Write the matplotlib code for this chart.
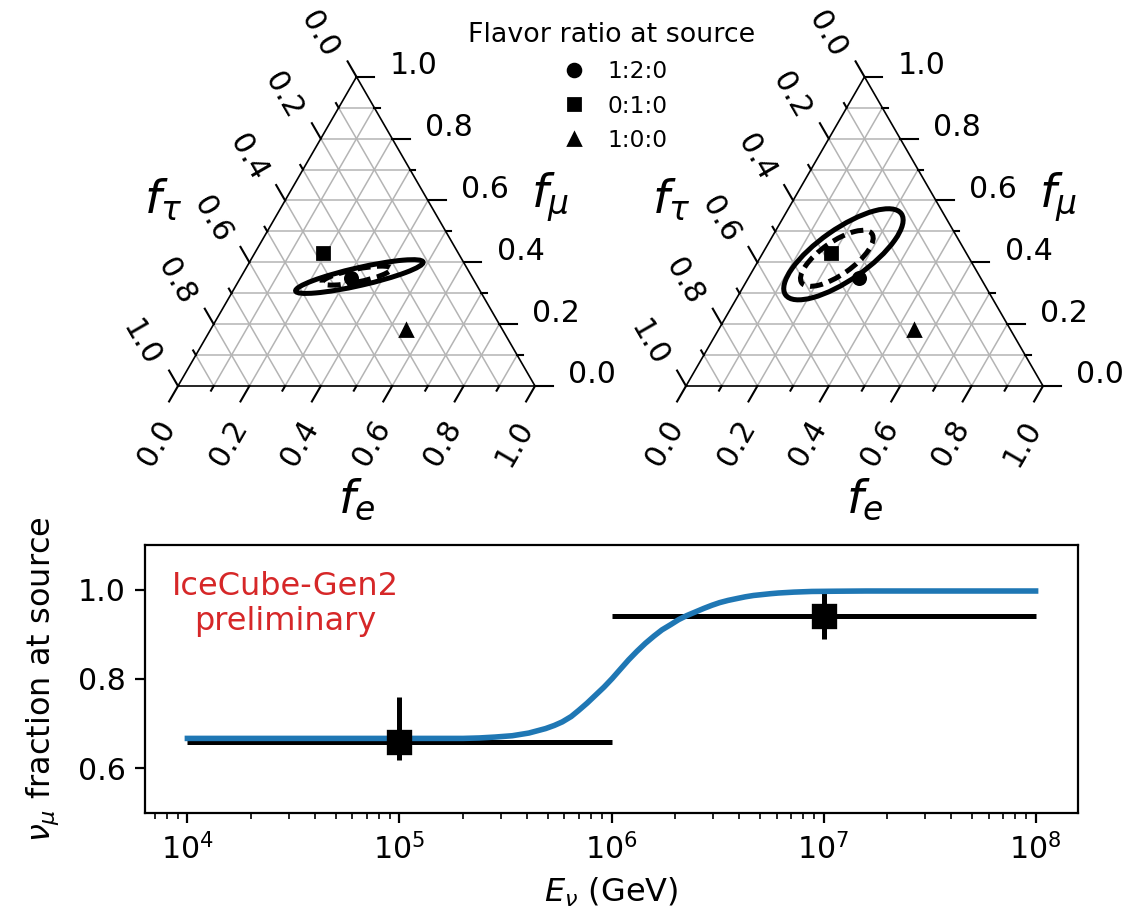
import numpy as np
import matplotlib
matplotlib.use("Agg")
import matplotlib.pyplot as plt
from matplotlib.patches import Ellipse
from matplotlib.lines import Line2D

# ---------------- flavor triangle content ----------------
axis_ticks = [0.0, 0.2, 0.4, 0.6, 0.8, 1.0]
axis_tick_labels = ["0.0", "0.2", "0.4", "0.6", "0.8", "1.0"]
minor_ticks = [0.1, 0.3, 0.5, 0.7, 0.9]
grid_levels = [0.1, 0.2, 0.3, 0.4, 0.5, 0.6, 0.7, 0.8, 0.9]

# flavor composition at Earth for each source ratio
source_labels = ["1:2:0", "0:1:0", "1:0:0"]
source_markers = ["o", "s", "^"]
source_fe = [0.31, 0.19, 0.55]
source_fmu = [0.35, 0.43, 0.18]

# sensitivity contours (solid, dashed): centre (f_e, f_mu), semi-axes, tilt
low_fe = [0.331, 0.322]
low_fmu = [0.354, 0.357]
low_semi_major = [0.183, 0.099]
low_semi_minor = [0.025, 0.018]
low_tilt = [12.8, 11.6]

high_fe = [0.228, 0.216]
high_fmu = [0.426, 0.413]
high_semi_major = [0.198, 0.120]
high_semi_minor = [0.071, 0.046]
high_tilt = [35.0, 35.0]

contour_styles = ["-", (0, (2.6, 1.3))]

# ---------------- energy-dependent muon fraction ----------------
curve_logE = [4.0, 4.5, 5.0, 5.2, 5.3, 5.376, 5.45, 5.532, 5.61, 5.689,
              5.73, 5.768, 5.81, 5.846, 5.885, 5.925, 5.965, 6.003, 6.04,
              6.081, 6.12, 6.16, 6.2, 6.238, 6.28, 6.317, 6.355, 6.395,
              6.435, 6.473, 6.51, 6.55, 6.59, 6.631, 6.67, 6.71, 6.75,
              6.787, 6.86, 6.944, 7.05, 7.2, 7.5, 8.0]
curve_frac = [0.667, 0.667, 0.667, 0.667, 0.667, 0.668, 0.670, 0.673, 0.679,
              0.689, 0.696, 0.704, 0.716, 0.730, 0.746, 0.764, 0.782, 0.801,
              0.821, 0.843, 0.862, 0.880, 0.896, 0.910, 0.922, 0.933, 0.942,
              0.950, 0.958, 0.965, 0.971, 0.976, 0.980, 0.984, 0.987, 0.989,
              0.991, 0.9925, 0.9945, 0.996, 0.9965, 0.997, 0.997, 0.997]

bin_lo = [1e4, 1e6]
bin_hi = [1e6, 1e8]
bin_center = [1e5, 1e7]
frac_best = [0.66, 0.94]
frac_lo = [0.618, 0.89]
frac_hi = [0.76, 0.993]

energy_range = (10 ** 3.8, 10 ** 8.2)
frac_range = (0.5, 1.1)
frac_ticks = [0.6, 0.8, 1.0]

W, H = 1140, 914
fig = plt.figure(figsize=(W / 200, H / 200), dpi=200)

SQ3 = np.sqrt(3) / 2
SIDE = 357.0


def proj(fe, fmu):
    fe = np.asarray(fe, float)
    fmu = np.asarray(fmu, float)
    return fe + fmu / 2, fmu * SQ3


def triangle_axes(rect_px, origin_px):
    x0, y0, w, h = rect_px
    ax = fig.add_axes([x0 / W, y0 / H, w / W, h / H])
    ax.set_xlim((x0 - origin_px[0]) / SIDE, (x0 + w - origin_px[0]) / SIDE)
    ax.set_ylim((y0 - origin_px[1]) / SIDE, (y0 + h - origin_px[1]) / SIDE)
    ax.axis("off")
    return ax


def draw_triangle(ax, c_fe, c_fmu, c_a, c_b, c_tilt):
    gcol = "#b4b4b4"
    for v in grid_levels:
        # constant f_mu
        xs, ys = proj([0, 1 - v], [v, v])
        ax.plot(xs, ys, color=gcol, lw=0.55, zorder=1)
        # constant f_e
        xs, ys = proj([v, v], [0, 1 - v])
        ax.plot(xs, ys, color=gcol, lw=0.55, zorder=1)
        # constant f_tau
        xs, ys = proj([1 - v, 0], [0, 1 - v])
        ax.plot(xs, ys, color=gcol, lw=0.55, zorder=1)
    xs, ys = proj([0, 1, 0, 0], [0, 0, 1, 0])
    ax.plot(xs, ys, color="k", lw=0.6, zorder=2, solid_joinstyle="miter")

    long_len, short_len = 0.05, 0.015
    d_bot = np.array([-0.5, -SQ3])
    d_right = np.array([1.0, 0.0])
    d_left = np.array([-0.5, SQ3])
    for vals, ln in ((axis_ticks, long_len), (minor_ticks, short_len)):
        for v in vals:
            # bottom axis: f_e
            p = np.array(proj(v, 0))
            q = p + ln * d_bot
            ax.plot([p[0], q[0]], [p[1], q[1]], color="k", lw=0.75)
            # right axis: f_mu
            p = np.array(proj(1 - v, v))
            q = p + ln * d_right
            ax.plot([p[0], q[0]], [p[1], q[1]], color="k", lw=0.75)
            # left axis: f_tau
            p = np.array(proj(0, 1 - v))
            q = p + ln * d_left
            ax.plot([p[0], q[0]], [p[1], q[1]], color="k", lw=0.75)

    for v, lab in zip(axis_ticks, axis_tick_labels):
        x, y = proj(v, 0)
        ax.text(x - 0.059, y - 0.160, lab, rotation=60, ha="center",
                va="center", fontsize=10.8, rotation_mode="anchor")
        x, y = proj(1 - v, v)
        ax.text(x + 0.160, y + 0.031, lab, ha="center", va="center",
                fontsize=10.8)
        x, y = proj(0, 1 - v)
        ax.text(x - 0.104, y + 0.120, lab, rotation=-60, ha="center",
                va="center", fontsize=10.8, rotation_mode="anchor")

    ax.text(-0.042, 0.521, r"$f_\tau$", fontsize=17, ha="center", va="center")
    ax.text(1.042, 0.529, r"$f_\mu$", fontsize=17, ha="center", va="center")
    ax.text(0.501, -0.319, r"$f_e$", fontsize=17, ha="center", va="center")

    for fe, fmu, a, b, t, ls in zip(c_fe, c_fmu, c_a, c_b, c_tilt,
                                     contour_styles):
        cx, cy = proj(fe, fmu)
        ax.add_patch(Ellipse((cx, cy), 2 * a, 2 * b, angle=t, fill=False,
                             ec="k", lw=1.8, ls=ls, zorder=4))

    for fe, fmu, m in zip(source_fe, source_fmu, source_markers):
        x, y = proj(fe, fmu)
        ax.plot([x], [y], marker=m, color="k", ms=4.4, ls="none", zorder=5)


ax_l = triangle_axes((0, 384, 570, 530), (178, 528))
draw_triangle(ax_l, low_fe, low_fmu, low_semi_major, low_semi_minor, low_tilt)
ax_r = triangle_axes((570, 384, 570, 530), (686, 528))
draw_triangle(ax_r, high_fe, high_fmu, high_semi_major, high_semi_minor,
              high_tilt)

handles = [Line2D([], [], marker=m, color="k", ls="none", ms=4.6, label=l)
           for m, l in zip(source_markers, source_labels)]
fig.legend(handles=handles, title="Flavor ratio at source",
           loc="upper center", bbox_to_anchor=(612 / W, 1 - 6 / H),
           frameon=False, fontsize=8.4, title_fontsize=9.7,
           handlelength=1.5, handletextpad=0.7, labelspacing=0.5,
           borderpad=0.2)

# ---------------- bottom panel ----------------
ax = fig.add_axes([145 / W, 101 / H, 933 / W, 268 / H])
ax.set_xscale("log")
c = np.array(bin_center)
b = np.array(frac_best)
ax.errorbar(c, b, xerr=[c - np.array(bin_lo), np.array(bin_hi) - c],
            yerr=[b - np.array(frac_lo), np.array(frac_hi) - b],
            fmt="none", ecolor="k", elinewidth=1.8, capsize=0, zorder=2)
ax.plot(10 ** np.array(curve_logE), curve_frac, color="#1f77b4", lw=2.0,
        zorder=2.5)
ax.plot(c, b, "s", color="k", ms=7.8, mew=1.2, mec="k", zorder=3)
ax.set_xlim(*energy_range)
ax.set_ylim(*frac_range)
ax.set_yticks(frac_ticks)
ax.tick_params(labelsize=10.8)
ax.set_xlabel(r"$E_\nu$ (GeV)", fontsize=11.5)
ax.set_ylabel(r"$\nu_\mu$ fraction at source", fontsize=11.5, labelpad=6)
ax.text(0.15, 0.78, "IceCube-Gen2\npreliminary", color="#d62728",
        ha="center", va="center", fontsize=11.5, transform=ax.transAxes)

fig.savefig("out.png", dpi=200)
